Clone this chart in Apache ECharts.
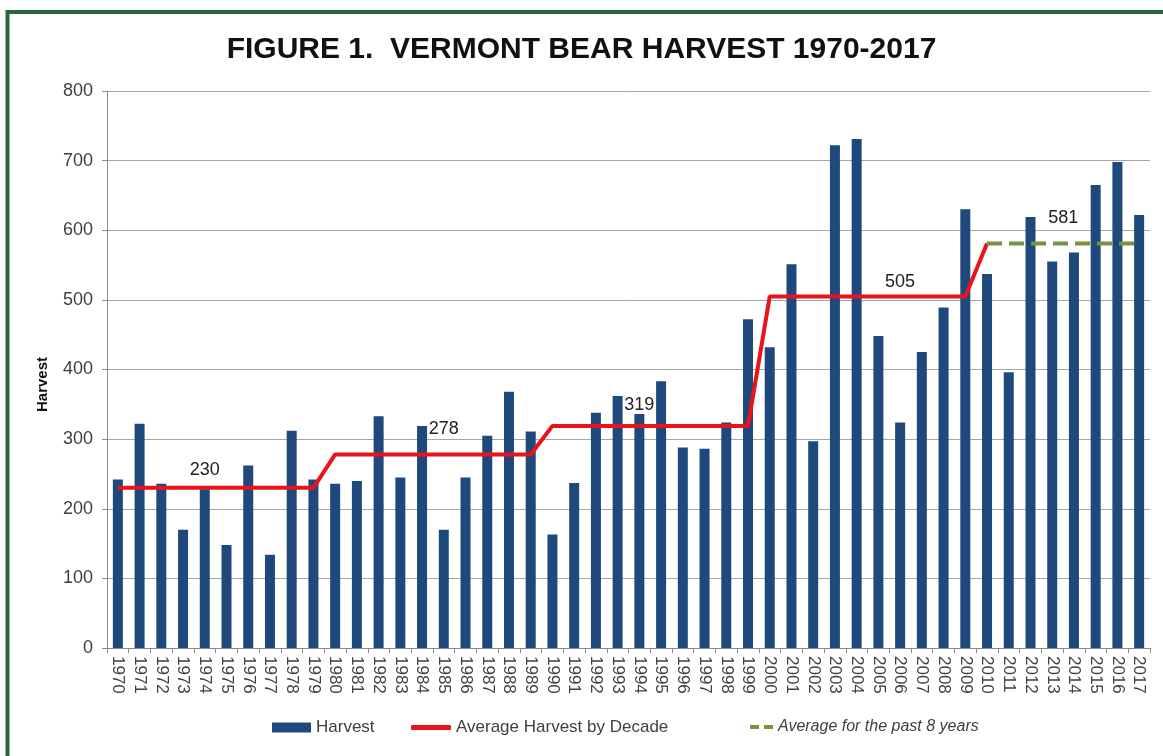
<!DOCTYPE html>
<html>
<head>
<meta charset="utf-8">
<script src="https://cdn.jsdelivr.net/npm/echarts@6/dist/echarts.min.js"></script>
<style>
  html, body { margin: 0; padding: 0; background: #fff; }
  #chart { width: 1163px; height: 756px; }
</style>
</head>
<body>
<div id="chart"></div>
<script>
// years on the x axis
const years = []
for (let y = 1970; y <= 2017; y++) years.push(String(y))

// bears harvested each year
const harvest = [
  242, 322, 236, 170, 228, 148, 262, 134, 312, 242,
  236, 240, 333, 245, 319, 170, 245, 305, 368, 311,
  163, 237, 338, 362, 336, 383, 288, 286, 324, 472,
  432, 551, 297, 722, 731, 448, 324, 425, 489, 630,
  537, 396, 619, 555, 568, 665, 698, 622
]

// decade averages, one value per year
const decadeAvg = [
  230, 230, 230, 230, 230, 230, 230, 230, 230, 230,
  278, 278, 278, 278, 278, 278, 278, 278, 278, 278,
  319, 319, 319, 319, 319, 319, 319, 319, 319, 319,
  505, 505, 505, 505, 505, 505, 505, 505, 505, 505,
  581, null, null, null, null, null, null, null
]

// last 8 years average
const recentAvg = [
  null, null, null, null, null, null, null, null, null, null,
  null, null, null, null, null, null, null, null, null, null,
  null, null, null, null, null, null, null, null, null, null,
  null, null, null, null, null, null, null, null, null, null,
  581, 581, 581, 581, 581, 581, 581, 581
]

const yTicks = { min: 0, max: 800, interval: 100 }

// where the value labels sit on the average lines
const decadeLabels = {
  4: { distance: 9 },
  15: { distance: 16 },
  24: { distance: 12 },
  36: { distance: 5 }
}
const recentLabels = {
  43: { offset: [11, 0], distance: 16 }
}

const font = 'Liberation Sans, Arial, sans-serif'
const txt = '#404040'

function withLabels(values, labels) {
  return values.map((v, i) => {
    if (!labels[i] || v == null) return v
    return {
      value: v,
      label: {
        show: true,
        position: 'top',
        distance: labels[i].distance,
        offset: labels[i].offset || [0, 0],
        color: '#222',
        fontSize: 18,
        fontFamily: font
      }
    }
  })
}

const chart = echarts.init(document.getElementById('chart'))
chart.setOption({
  backgroundColor: '#fff',
  animation: false,
  title: {
    text: 'FIGURE 1.  VERMONT BEAR HARVEST 1970-2017',
    left: 'center',
    top: 30,
    textStyle: { fontFamily: font, fontWeight: 'bold', fontSize: 30, color: '#111' }
  },
  graphic: [{
    type: 'rect',
    shape: { x: 7.5, y: 12, width: 1300, height: 900 },
    style: { fill: 'none', stroke: '#27663a', lineWidth: 4 },
    silent: true
  }],
  legend: [
    {
      data: [{ name: 'Harvest', icon: 'rect' }],
      left: 267,
      top: 714,
      itemWidth: 39,
      itemHeight: 10,
      textStyle: { fontFamily: font, fontSize: 17, color: txt }
    },
    {
      data: [{ name: 'Average Harvest by Decade', icon: 'roundRect' }],
      left: 406,
      top: 714,
      itemWidth: 40,
      itemHeight: 5,
      textStyle: { fontFamily: font, fontSize: 17, color: txt }
    },
    {
      data: [{ name: 'Average for the past 8 years', icon: 'path://M0,0h9v4h-9z M14,0h9v4h-9z' }],
      left: 745,
      top: 714,
      itemWidth: 23,
      itemHeight: 4,
      textStyle: { fontFamily: font, fontSize: 16, fontStyle: 'italic', color: txt }
    }
  ],
  grid: { left: 107, right: 13, top: 91, bottom: 108, containLabel: false },
  xAxis: {
    type: 'category',
    data: years,
    axisLine: { lineStyle: { color: '#8c8c8c' } },
    axisTick: { show: true, length: 5, lineStyle: { color: '#8c8c8c' } },
    axisLabel: {
      interval: 0,
      rotate: -90,
      margin: 8,
      fontFamily: font,
      fontSize: 17,
      color: txt
    }
  },
  yAxis: {
    type: 'value',
    min: yTicks.min,
    max: yTicks.max,
    interval: yTicks.interval,
    name: 'Harvest',
    nameLocation: 'middle',
    nameGap: 57,
    nameTextStyle: { fontFamily: font, fontWeight: 'bold', fontSize: 15, color: '#111', padding: [0, 30, 0, 0] },
    axisLine: { show: true, lineStyle: { color: '#8c8c8c' } },
    axisTick: { show: true, length: 5, lineStyle: { color: '#8c8c8c' } },
    axisLabel: { margin: 14, fontFamily: font, fontSize: 18, color: txt },
    splitLine: { lineStyle: { color: '#a6a6a6' } }
  },
  series: [
    {
      name: 'Harvest',
      type: 'bar',
      data: harvest,
      barWidth: 10,
      itemStyle: { color: '#1f497d' }
    },
    {
      name: 'Average Harvest by Decade',
      type: 'line',
      data: withLabels(decadeAvg, decadeLabels),
      symbol: 'circle',
      symbolSize: 0,
      showSymbol: true,
      connectNulls: false,
      lineStyle: { color: '#e8131b', width: 4 },
      itemStyle: { color: '#e8131b' },
      z: 3
    },
    {
      name: 'Average for the past 8 years',
      type: 'line',
      data: withLabels(recentAvg, recentLabels),
      symbol: 'circle',
      symbolSize: 0,
      showSymbol: true,
      lineStyle: { color: '#77933c', width: 4, type: [15, 7] },
      itemStyle: { color: '#77933c' },
      z: 4
    }
  ]
})
</script>
</body>
</html>
